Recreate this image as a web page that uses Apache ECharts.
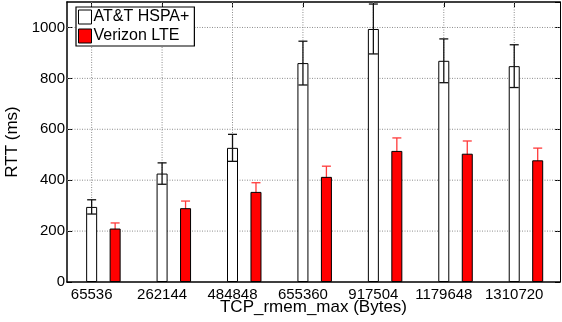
<!DOCTYPE html>
<html><head><meta charset="utf-8">
<script src="https://cdn.jsdelivr.net/npm/echarts@6/dist/echarts.min.js"></script>
<style>html,body{margin:0;padding:0;background:#fff}#c{width:562px;height:322px}</style>
</head><body><div id="c"></div>
<script>
const categories = ['65536','262144','484848','655360','917504','1179648','1310720'];
const attMean = [295, 426, 527, 860, 994, 869, 848];
const attErr  = [28, 42, 53, 86, 98, 86, 84];
const vzMean  = [210, 290, 354, 413, 515, 504, 478];
const vzErr   = [22, 28, 36, 42, 51, 50, 48];
const yTicks  = [0, 200, 400, 600, 800, 1000];
const seriesNames = ['AT&T HSPA+', 'Verizon LTE'];

const FONT = 'Liberation Sans';
const xPos = categories.map((c, i) => i + 1);
const X_MIN = 0.65, X_MAX = 7.65, SHIFT = 1 / 3;

function errData(mean, err) {
  return mean.map((v, i) => [xPos[i], v - err[i], v + err[i]]);
}
function errRender(color, capW) {
  return function (params, api) {
    const x = api.value(0);
    const lo = api.coord([x, api.value(1)]);
    const hi = api.coord([x, api.value(2)]);
    const st = { stroke: color, lineWidth: 1.3 };
    return {
      type: 'group',
      children: [
        { type: 'line', shape: { x1: lo[0], y1: lo[1], x2: hi[0], y2: hi[1] }, style: st },
        { type: 'line', shape: { x1: hi[0] - capW / 2, y1: hi[1], x2: hi[0] + capW / 2, y2: hi[1] }, style: st },
        { type: 'line', shape: { x1: lo[0] - capW / 2, y1: lo[1], x2: lo[0] + capW / 2, y2: lo[1] }, style: st }
      ]
    };
  };
}
// dotted grid: vertical lines at the category ticks and horizontal lines at the y ticks
function gridRender(params, api) {
  const isV = api.value(0) === 0;
  const v = api.value(1);
  const a = isV ? api.coord([v, 1100]) : api.coord([X_MIN, v]);
  const b = isV ? api.coord([v, 0]) : api.coord([X_MAX, v]);
  return { type: 'line', shape: { x1: a[0], y1: a[1], x2: b[0], y2: b[1] },
    style: { stroke: '#8c8c8c', lineWidth: 1, lineDash: [1, 1.5] } };
}

const axisLineStyle = { color: '#000', width: 1.5 };

const chart = echarts.init(document.getElementById('c'), null, { renderer: 'canvas' });
chart.setOption({
  animation: false,
  backgroundColor: '#fff',
  textStyle: { fontFamily: FONT },
  grid: { left: 67, right: 2, top: 2, bottom: 40, containLabel: false, outerBoundsMode: 'none' },
  legend: {
    data: seriesNames,
    orient: 'vertical',
    left: 76, top: 7,
    itemWidth: 13, itemHeight: 14, itemGap: 3,
    padding: [2, 5, 2, 2],
    backgroundColor: '#fff',
    borderColor: '#000', borderWidth: 1.2, borderRadius: 0,
    icon: 'rect',
    itemStyle: { borderColor: '#000', borderWidth: 1 },
    textStyle: { fontFamily: FONT, fontSize: 16, color: '#000', padding: [0, 0, 0, -3] }
  },
  xAxis: [
    {
      type: 'value', min: X_MIN, max: X_MAX, position: 'bottom',
      name: 'TCP_rmem_max (Bytes)', nameLocation: 'middle', nameGap: 17, nameMoveOverlap: false,
      nameTextStyle: { fontFamily: FONT, fontSize: 17, color: '#000', verticalAlign: 'top' },
      axisLine: { show: true, lineStyle: axisLineStyle },
      axisTick: { show: true, inside: true, length: 5, customValues: xPos, lineStyle: { color: '#000' } },
      axisLabel: { show: true, customValues: xPos, margin: 5, fontFamily: FONT, fontSize: 15, color: '#000',
        formatter: v => categories[Math.round(v) - 1] },
      splitLine: { show: false }
    },
    {
      type: 'value', min: X_MIN - SHIFT, max: X_MAX - SHIFT, show: false,
      splitLine: { show: false }
    },
    {
      type: 'value', min: X_MIN, max: X_MAX, position: 'top',
      axisLine: { show: true, lineStyle: axisLineStyle },
      axisTick: { show: true, inside: true, length: 5, customValues: xPos, lineStyle: { color: '#000' } },
      axisLabel: { show: false },
      splitLine: { show: false }
    }
  ],
  yAxis: [
    {
      type: 'value', min: 0, max: 1100, interval: 200, position: 'left',
      name: 'RTT (ms)', nameLocation: 'middle', nameGap: 33,
      nameTextStyle: { fontFamily: FONT, fontSize: 17, color: '#000' },
      axisLine: { show: true, lineStyle: axisLineStyle },
      axisTick: { show: true, inside: true, length: 5, lineStyle: { color: '#000' } },
      axisLabel: { show: true, showMaxLabel: false, margin: 2, fontFamily: FONT, fontSize: 15, color: '#000',
        formatter: v => (v > 1000 ? '' : String(v)) },
      splitLine: { show: false }
    },
    {
      type: 'value', min: 0, max: 1100, interval: 200, position: 'right',
      axisLine: { show: true, lineStyle: { color: '#000', width: 1 } },
      axisTick: { show: true, inside: true, length: 5, lineStyle: { color: '#000' } },
      axisLabel: { show: false },
      splitLine: { show: false }
    }
  ],
  series: [
    {
      type: 'custom', xAxisIndex: 0, yAxisIndex: 0, z: 1, silent: true,
      renderItem: gridRender,
      data: xPos.map(v => [0, v]).concat(yTicks.slice(1).map(v => [1, v]))
    },
    {
      name: seriesNames[0], type: 'bar', xAxisIndex: 0, yAxisIndex: 0,
      barWidth: 11, z: 2,
      itemStyle: { color: '#fff', borderColor: '#000', borderWidth: 1 },
      data: attMean.map((v, i) => [xPos[i], v])
    },
    {
      name: seriesNames[1], type: 'bar', xAxisIndex: 1, yAxisIndex: 0,
      barWidth: 11, z: 2,
      itemStyle: { color: '#ff0000', borderColor: '#000', borderWidth: 1 },
      data: vzMean.map((v, i) => [xPos[i], v])
    },
    {
      type: 'custom', xAxisIndex: 0, yAxisIndex: 0, z: 3,
      renderItem: errRender('#111', 9),
      data: errData(attMean, attErr)
    },
    {
      type: 'custom', xAxisIndex: 1, yAxisIndex: 0, z: 1.5,
      renderItem: errRender('#ff3a3a', 9),
      data: errData(vzMean, vzErr)
    }
  ]
});
</script></body></html>
